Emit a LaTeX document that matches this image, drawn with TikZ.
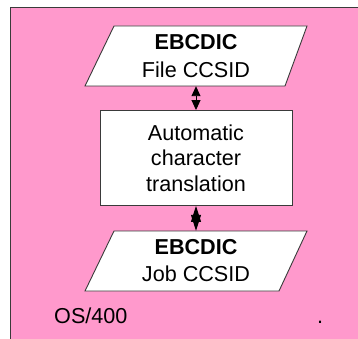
\documentclass[tikz,border=0pt]{standalone}
\usepackage{fontspec}
\setmainfont{Liberation Sans}
\usetikzlibrary{arrows.meta,calc}
\definecolor{pinkbg}{HTML}{FF99CC}
\definecolor{edgegray}{HTML}{3A3A3A}
\tikzset{
  txt/.style={font=\fontsize{21.6}{25.5}\selectfont, align=center, inner sep=0pt},
  anchorbox/.style={draw=none, minimum height=60pt, minimum width=200pt, inner sep=0pt},
  procbox/.style={draw=edgegray, line width=0.9pt, fill=white, minimum width=192pt, minimum height=95pt, inner sep=0pt},
  para/.style={draw=edgegray, line width=0.9pt, fill=white},
  link/.style={line width=0.9pt, {Triangle[width=9pt,length=10pt]}-{Triangle[width=9pt,length=10pt]}},
  linkshort/.style={line width=0.9pt, {Triangle[width=10pt,length=16pt]}-{Triangle[width=10pt,length=16pt]}}
}
\begin{document}
\begin{tikzpicture}[x=1pt,y=-1pt]
\useasboundingbox (0,0) rectangle (358,339);
\fill[white] (0,0) rectangle (358,339);
\draw[fill=pinkbg, draw=edgegray, line width=0.9pt] (10,7) rectangle (365,345);
% top parallelogram
\node[anchorbox] (file) at (196,56) {};
\draw[para] ($(file.center)+(-111,30)$) -- ++(200,0) -- ++(22,-60) -- ++(-193,0) -- cycle;
\node[txt] (filetxt) at (196,56) {\textbf{EBCDIC}\\[2pt]File CCSID};
% process box
\node[procbox] (auto) at (196,158) {};
\node[txt] (autotxt) at (196,158) {Automatic\\character\\translation};
% bottom parallelogram
\node[anchorbox] (job) at (196,261) {};
\draw[para] ($(job.center)+(-111,30)$) -- ++(194,0) -- ++(28,-60) -- ++(-193,0) -- cycle;
\node[txt] (jobtxt) at (196,261) {\textbf{EBCDIC}\\[1.5pt]Job CCSID};
% connectors
\draw[link] (file.south) -- (auto.north);
\draw[linkshort] (auto.south) -- (job.north);
% labels
\node[txt, anchor=base west] (os) at (54,323) {OS/400};
\node[txt, anchor=base] (dot) at (320,323) {.};
\end{tikzpicture}
\end{document}
